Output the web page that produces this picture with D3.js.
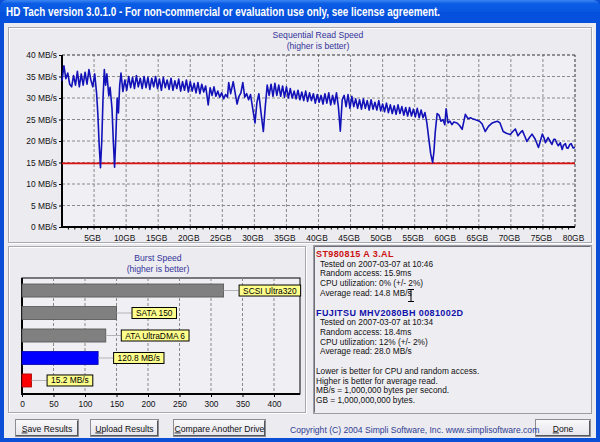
<!DOCTYPE html>
<html>
<head>
<meta charset="utf-8">
<script src="https://cdn.jsdelivr.net/npm/d3@7"></script>
<style>
  html, body { margin: 0; padding: 0; background: #fff; }
  svg { display: block; }
  text { font-family: "Liberation Sans", Arial, sans-serif; }
</style>
</head>
<body>
<div id="chart"></div>
<script>

// sequential read trace of the FUJITSU drive (GB position, MB/s)
var readGB = [0.0, 0.3, 0.6, 0.9, 1.2, 1.5, 1.8, 2.1, 2.4, 2.7, 3.0, 3.3, 3.6, 3.9, 4.2, 4.5, 4.8, 5.1, 5.4, 5.6,
    5.8, 6.0, 6.2, 6.4, 6.6, 6.8, 7.0, 7.3, 7.5, 7.8, 8.0, 8.2, 8.4, 8.6, 8.8, 9.0, 9.2, 9.5, 9.8, 10.1,
    10.4, 10.7, 11.0, 11.3, 11.6, 11.9, 12.2, 12.5, 12.8, 13.1, 13.4, 13.7, 14.0, 14.3, 14.6, 14.9, 15.2, 15.5, 15.8, 16.1,
    16.4, 16.7, 17.0, 17.3, 17.6, 17.9, 18.2, 18.5, 18.8, 19.1, 19.4, 19.7, 20.0, 20.3, 20.6, 20.9, 21.2, 21.5, 21.8, 22.1,
    22.4, 22.8, 23.1, 23.4, 23.7, 24.0, 24.3, 24.6, 24.9, 25.2, 25.5, 25.8, 26.0, 26.3, 26.7, 27.0, 27.3, 27.6, 27.9, 28.2,
    28.5, 28.8, 29.1, 29.4, 29.8, 30.1, 30.4, 30.7, 31.0, 31.4, 31.7, 32.0, 32.3, 32.6, 32.9, 33.2, 33.5, 33.8, 34.1, 34.4,
    34.7, 35.0, 35.3, 35.6, 35.9, 36.2, 36.5, 36.8, 37.1, 37.4, 37.7, 38.0, 38.3, 38.6, 38.9, 39.2, 39.5, 39.8, 40.1, 40.4,
    40.7, 41.0, 41.3, 41.6, 41.9, 42.2, 42.5, 42.8, 43.1, 43.4, 43.7, 44.0, 44.3, 44.6, 44.9, 45.2, 45.5, 45.8, 46.1, 46.4,
    46.7, 47.0, 47.3, 47.6, 47.9, 48.2, 48.5, 48.8, 49.1, 49.4, 49.7, 50.0, 50.3, 50.6, 50.9, 51.2, 51.5, 51.8, 52.1, 52.4,
    52.7, 53.0, 53.3, 53.6, 53.9, 54.2, 54.5, 54.8, 55.1, 55.4, 55.7, 56.0, 56.3, 56.6, 56.9, 57.2, 57.5, 57.8, 58.0, 58.2,
    58.5, 58.8, 59.1, 59.4, 59.7, 59.9, 60.2, 60.5, 60.8, 61.1, 61.6, 62.0, 62.4, 62.9, 63.3, 63.7, 64.0, 64.4, 64.7, 65.1,
    65.5, 66.0, 66.5, 67.1, 67.5, 67.9, 68.3, 68.8, 69.3, 69.9, 70.3, 70.7, 71.1, 71.5, 71.8, 72.2, 72.5, 72.9, 73.3, 73.8,
    74.3, 74.6, 74.9, 75.2, 75.4, 75.8, 76.1, 76.4, 76.7, 76.9, 77.2, 77.4, 77.7, 78.0, 78.2, 78.5, 78.7, 78.9, 79.2, 79.4,
    79.7, 80.0];
var readMBs = [34.0, 37.5, 34.5, 35.8, 33.2, 32.6, 35.2, 33.0, 36.2, 32.6, 35.6, 33.0, 36.0, 33.2, 36.6, 34.2, 32.6, 35.6, 31.0, 26.0,
    19.0, 13.8, 20.0, 30.0, 36.6, 33.0, 35.6, 30.5, 32.5, 27.5, 20.0, 13.9, 21.0, 30.0, 26.5, 33.0, 35.8, 31.5, 34.2, 31.8,
    35.0, 32.4, 34.8, 32.2, 35.2, 32.6, 34.6, 32.2, 35.0, 32.4, 34.8, 32.0, 34.6, 32.6, 35.0, 32.2, 34.4, 31.8, 34.8, 32.4,
    34.2, 32.0, 34.6, 31.8, 34.0, 32.2, 34.4, 31.6, 33.8, 31.8, 34.2, 31.4, 33.8, 31.6, 33.4, 31.2, 33.6, 31.0, 33.2, 31.4,
    32.8, 28.4, 32.4, 30.6, 32.6, 30.4, 31.6, 30.2, 31.2, 29.8, 30.8, 30.2, 33.6, 31.0, 33.8, 31.2, 28.6, 30.4, 31.2, 33.6,
    30.2, 31.0, 29.6, 30.8, 27.0, 24.2, 29.0, 31.0, 27.0, 22.2, 28.0, 33.0, 30.6, 33.2, 30.4, 33.4, 30.6, 33.0, 30.4, 32.8,
    30.2, 32.6, 30.0, 32.2, 30.0, 31.6, 29.8, 31.8, 29.6, 31.4, 29.4, 31.6, 29.2, 31.2, 29.4, 31.0, 28.8, 30.8, 29.0, 30.6,
    28.6, 31.0, 28.8, 31.2, 28.4, 30.6, 28.6, 31.2, 28.0, 22.3, 29.6, 30.6, 28.0, 30.8, 27.6, 30.4, 28.0, 29.8, 27.6, 29.6,
    27.4, 29.8, 27.6, 29.4, 27.2, 29.6, 27.4, 29.0, 27.2, 29.4, 27.0, 28.6, 26.8, 28.8, 26.6, 28.4, 26.4, 28.2, 26.2, 28.4,
    26.4, 28.0, 26.0, 27.8, 25.8, 27.8, 25.8, 27.4, 25.6, 27.6, 25.4, 27.2, 25.4, 26.6, 24.2, 20.5, 17.0, 15.0, 17.5, 22.0,
    26.4, 26.0, 24.6, 25.0, 23.8, 27.5, 24.2, 24.6, 23.8, 24.4, 24.2, 23.6, 22.7, 26.2, 25.2, 25.4, 25.2, 25.0, 24.8, 24.6,
    24.0, 22.2, 23.4, 24.2, 24.4, 24.6, 24.2, 22.2, 21.8, 21.5, 22.2, 22.8, 21.2, 22.0, 22.4, 21.0, 19.9, 20.8, 21.6, 20.4,
    18.5, 20.0, 21.6, 20.6, 19.6, 20.8, 20.0, 19.2, 20.4, 20.4, 19.4, 18.9, 19.6, 18.0, 19.0, 19.4, 18.4, 18.3, 19.2, 19.4,
    18.4, 18.5];

// ST980815 trace (flat, drawn as a red line)
var refGB = [0, 80];
var refMBs = [14.8, 14.8];

var yTickValues = [0, 5, 10, 15, 20, 25, 30, 35, 40];
var xTickValues = [5, 10, 15, 20, 25, 30, 35, 40, 45, 50, 55, 60, 65, 70, 75, 80];

// burst speed panel
var burstLabels = ["SCSI Ultra320", "SATA 150", "ATA UltraDMA 6", "120.8 MB/s", "15.2 MB/s"];
var burstValues = [320, 150, 133, 120.8, 15.2];
var burstColors = ["#808080", "#808080", "#808080", "#0000FF", "#FF0000"];
var burstTickValues = [0, 50, 100, 150, 200, 250, 300, 350, 400];

// drive info text
var driveNames = ["ST980815 A 3.AL", "FUJITSU MHV2080BH 0081002D"];
var driveTested = ["2007-03-07 at 10:46", "2007-03-07 at 10:34"];
var driveRandomAccess = ["15.9", "18.4"];
var driveCpu = ["0%", "12%"];
var driveAvgRead = ["14.8", "28.0"];
var driveColors = ["#CC1111", "#1111AA"];
var notes = ["Lower is better for CPU and random access.",
    "Higher is better for average read.",
    "MB/s = 1,000,000 bytes per second.",
    "GB = 1,000,000,000 bytes."];

var W = 600, H = 442;
var bodyColor = "#ECEBF0";
var titleColor = "#33339A";

var svg = d3.select("#chart").append("svg")
    .attr("width", W)
    .attr("height", H);

var defs = svg.append("defs");
var tg = defs.append("linearGradient").attr("id", "titlegrad")
    .attr("x1", 0).attr("y1", 0).attr("x2", 0).attr("y2", 1);
tg.append("stop").attr("offset", "0%").attr("stop-color", "#3C86F2");
tg.append("stop").attr("offset", "15%").attr("stop-color", "#0B5DE6");
tg.append("stop").attr("offset", "80%").attr("stop-color", "#0550DC");
tg.append("stop").attr("offset", "100%").attr("stop-color", "#0340C0");

var bg = defs.append("linearGradient").attr("id", "btngrad")
    .attr("x1", 0).attr("y1", 0).attr("x2", 0).attr("y2", 1);
bg.append("stop").attr("offset", "0%").attr("stop-color", "#FAFAFC");
bg.append("stop").attr("offset", "100%").attr("stop-color", "#E4E3EA");

// window frame
svg.append("rect").attr("width", W).attr("height", H).attr("fill", "#0A4FD6");
svg.append("rect").attr("x", 0).attr("y", 0).attr("width", W).attr("height", 24)
    .attr("rx", 7).attr("fill", "url(#titlegrad)");
svg.append("rect").attr("x", 0).attr("y", 12).attr("width", W).attr("height", 12)
    .attr("fill", "#0550DC");
svg.append("rect").attr("x", 4).attr("y", 23).attr("width", W - 8).attr("height", H - 27)
    .attr("fill", bodyColor);

svg.append("text")
    .attr("x", 6).attr("y", 16)
    .attr("fill", "#fff")
    .attr("font-size", "12px")
    .attr("font-weight", "bold")
    .attr("textLength", 434)
    .attr("lengthAdjust", "spacingAndGlyphs")
    .text("HD Tach version 3.0.1.0  - For non-commercial or evaluation use only, see license agreement.");

// etched group frames
function etched(x, y, w, h){
    svg.append("rect").attr("x", x + 1).attr("y", y + 1).attr("width", w).attr("height", h)
        .attr("fill", "none").attr("stroke", "#fff");
    svg.append("rect").attr("x", x).attr("y", y).attr("width", w).attr("height", h)
        .attr("fill", "none").attr("stroke", "#A8A8B0");
}
etched(8.5, 27.5, 583, 215);
etched(8.5, 246.5, 297, 166);

// ---------- sequential read chart ----------
var x = d3.scaleLinear().domain([0, 80]).range([62, 575]);
var y = d3.scaleLinear().domain([0, 40]).range([227, 55]);

svg.append("rect")
    .attr("x", x(0)).attr("y", y(40))
    .attr("width", x(80) - x(0)).attr("height", y(0) - y(40))
    .attr("fill", "#F0EFF4");

svg.append("text").attr("x", 318).attr("y", 38).attr("text-anchor", "middle")
    .attr("font-size", "8.6px").attr("fill", titleColor).text("Sequential Read Speed");
svg.append("text").attr("x", 318).attr("y", 49).attr("text-anchor", "middle")
    .attr("font-size", "8.6px").attr("fill", titleColor).text("(higher is better)");

// grid
svg.append("g").selectAll("line").data(xTickValues).enter().append("line")
    .attr("x1", function(d){ return x(d); }).attr("x2", function(d){ return x(d); })
    .attr("y1", y(0)).attr("y2", y(40))
    .attr("stroke", function(d){ return d === 80 ? "#333" : "#8A8A8A"; })
    .attr("stroke-width", 1)
    .attr("stroke-dasharray", "3,2");
svg.append("g").selectAll("line").data(yTickValues.slice(1)).enter().append("line")
    .attr("x1", x(0)).attr("x2", x(80))
    .attr("y1", function(d){ return y(d); }).attr("y2", function(d){ return y(d); })
    .attr("stroke", function(d){ return d === 40 ? "#333" : "#8A8A8A"; })
    .attr("stroke-width", 1)
    .attr("stroke-dasharray", "3,2");

// minor ticks under the GB axis
svg.append("g").selectAll("line").data(d3.range(1, 80)).enter().append("line")
    .attr("x1", function(d){ return x(d); }).attr("x2", function(d){ return x(d); })
    .attr("y1", y(0)).attr("y2", y(0) + 2.5)
    .attr("stroke", "#000").attr("stroke-width", 1);

var yAxis = svg.append("g")
    .attr("transform", "translate(" + x(0) + ",0)")
    .call(d3.axisLeft(y).tickValues(yTickValues).tickSize(3).tickPadding(2)
        .tickFormat(function(d){ return d + " MB/s"; }));
var xAxis = svg.append("g")
    .attr("transform", "translate(0," + y(0) + ")")
    .call(d3.axisBottom(x).tickValues(xTickValues).tickSize(0).tickPadding(8)
        .tickFormat(function(d){ return d + "GB"; }));
[yAxis, xAxis].forEach(function(a){
    a.select(".domain").attr("stroke", "#000").attr("stroke-width", 2);
    a.selectAll("text").attr("font-size", "8.4px").attr("fill", "#111")
        .attr("font-family", "Liberation Sans, Arial, sans-serif");
});
xAxis.selectAll("text").attr("dx", "-2");
yAxis.select(".domain").attr("d", "M0," + y(40) + "V" + (y(0) + 1));
xAxis.select(".domain").attr("d", "M" + (x(0) - 1) + ",0H" + x(80));

var line = d3.line()
    .x(function(d){ return x(d[0]); })
    .y(function(d){ return y(d[1]); });

svg.append("path")
    .datum(d3.zip(refGB, refMBs))
    .attr("d", line)
    .attr("fill", "none")
    .attr("stroke", "#DD1111")
    .attr("stroke-width", 1.6);

svg.append("path")
    .datum(d3.zip(readGB, readMBs))
    .attr("d", line)
    .attr("fill", "none")
    .attr("stroke", "#1212B8")
    .attr("stroke-width", 1.6)
    .attr("stroke-linejoin", "round");

// ---------- burst speed chart ----------
var bx = d3.scaleLinear().domain([0, 400]).range([22, 274]);
var by = d3.scaleBand().domain(burstLabels).range([279.5, 391.5])
    .paddingInner(0.42).paddingOuter(0.2);

svg.append("text").attr("x", 158).attr("y", 261).attr("text-anchor", "middle")
    .attr("font-size", "8.6px").attr("fill", titleColor).text("Burst Speed");
svg.append("text").attr("x", 158).attr("y", 272).attr("text-anchor", "middle")
    .attr("font-size", "8.6px").attr("fill", titleColor).text("(higher is better)");

svg.append("rect").attr("x", 22).attr("y", 278).attr("width", 278).attr("height", 116)
    .attr("fill", "#F0EFF4").attr("stroke", "#000").attr("stroke-width", 1);

svg.append("g").selectAll("line").data(burstTickValues.slice(1)).enter().append("line")
    .attr("x1", function(d){ return bx(d); }).attr("x2", function(d){ return bx(d); })
    .attr("y1", 278).attr("y2", 394)
    .attr("stroke", "#8A8A8A").attr("stroke-dasharray", "3,2");

var bAxis = svg.append("g")
    .attr("transform", "translate(0,394)")
    .call(d3.axisBottom(bx).tickValues(burstTickValues).tickSize(3).tickPadding(4));
bAxis.select(".domain").attr("stroke", "#000").attr("stroke-width", 2)
    .attr("d", "M22,0H300");
bAxis.selectAll("text").attr("font-size", "8.4px").attr("fill", "#111")
    .attr("font-family", "Liberation Sans, Arial, sans-serif");
svg.append("line").attr("x1", 22).attr("x2", 22).attr("y1", 278).attr("y2", 395)
    .attr("stroke", "#000").attr("stroke-width", 2);

var bars = svg.append("g").selectAll("g").data(burstLabels).enter().append("g");
bars.append("rect")
    .attr("x", bx(0))
    .attr("y", function(d){ return by(d); })
    .attr("width", function(d, i){ return bx(burstValues[i]) - bx(0); })
    .attr("height", by.bandwidth())
    .attr("fill", function(d, i){ return burstColors[i]; })
    .attr("stroke", function(d, i){ return d3.color(burstColors[i]).darker(1.2); })
    .attr("stroke-width", 0.8);

bars.append("line")
    .attr("x1", function(d, i){ return bx(burstValues[i]); })
    .attr("x2", function(d, i){ return bx(burstValues[i]) + 15; })
    .attr("y1", function(d){ return by(d) + by.bandwidth() / 2; })
    .attr("y2", function(d){ return by(d) + by.bandwidth() / 2; })
    .attr("stroke", "#B4B4B4");

bars.each(function(d, i){
    var g = d3.select(this);
    var cy = by(d) + by.bandwidth() / 2;
    var lx = bx(burstValues[i]) + 15;
    var box = g.append("rect");
    var t = g.append("text")
        .attr("y", cy + 3)
        .attr("font-size", "8.4px")
        .attr("fill", "#000")
        .text(d);
    var tw = t.node().getComputedTextLength();
    box.attr("x", lx + 0.5).attr("y", cy - 5.5)
        .attr("width", tw + 8).attr("height", 11)
        .attr("fill", "#FFFF8C").attr("stroke", "#000").attr("stroke-width", 1);
    t.attr("x", lx + 4.5);
});

// ---------- drive info panel ----------
svg.append("rect").attr("x", 313.5).attr("y", 245.5).attr("width", 278).attr("height", 168)
    .attr("fill", "#EEEDF2").attr("stroke", "#9C9CA4");
svg.append("line").attr("x1", 314.5).attr("x2", 590.5).attr("y1", 246.5).attr("y2", 246.5)
    .attr("stroke", "#6E6E78");
svg.append("line").attr("x1", 314.5).attr("x2", 314.5).attr("y1", 246.5).attr("y2", 412.5)
    .attr("stroke", "#6E6E78");

var info = svg.append("g").attr("font-size", "8.3px").attr("fill", "#111");
driveNames.forEach(function(name, i){
    var top = 257 + i * 58.5;
    info.append("text").attr("x", 316).attr("y", top)
        .attr("font-size", "9px").attr("font-weight", "bold")
        .attr("letter-spacing", "0.4px")
        .attr("fill", driveColors[i]).text(name);
    var lines = ["Tested on " + driveTested[i],
        "Random access: " + driveRandomAccess[i] + "ms",
        "CPU utilization: " + driveCpu[i] + " (+/- 2%)",
        "Average read: " + driveAvgRead[i] + " MB/s"];
    lines.forEach(function(s, j){
        info.append("text").attr("x", 320).attr("y", top + 9.7 * (j + 1)).text(s);
    });
});
notes.forEach(function(s, j){
    info.append("text").attr("x", 316).attr("y", 374 + 9.7 * j).text(s);
});

// I-beam cursor left in the text box
svg.append("path")
    .attr("d", "M408,289.5h6M411,289.5v12M408,301.5h6")
    .attr("stroke", "#000").attr("stroke-width", 1).attr("fill", "none");

// ---------- buttons ----------
var buttons = [
    {label: "Save Results", x: 15, w: 63},
    {label: "Upload Results", x: 90, w: 68},
    {label: "Compare Another Drive", x: 173, w: 92},
    {label: "Done", x: 535, w: 55}
];
buttons.forEach(function(b){
    var g = svg.append("g");
    g.append("rect").attr("x", b.x + 0.5).attr("y", 419.5).attr("width", b.w).attr("height", 17)
        .attr("fill", "url(#btngrad)").attr("stroke", "#8C8C94");
    g.append("path")
        .attr("d", "M" + (b.x + b.w - 0.5) + ",420.5V436M" + (b.x + 1) + ",435.5H" + (b.x + b.w))
        .attr("stroke", "#55555C");
    var t = g.append("text").attr("x", b.x + b.w / 2 + 0.5).attr("y", 431.5)
        .attr("text-anchor", "middle").attr("font-size", "8.6px").attr("fill", "#111");
    t.append("tspan").attr("text-decoration", "underline").text(b.label.charAt(0));
    t.append("tspan").text(b.label.slice(1));
});

svg.append("text").attr("x", 290).attr("y", 433)
    .attr("font-size", "8.6px").attr("fill", "#2E3D94")
    .text("Copyright (C) 2004 Simpli Software, Inc. www.simplisoftware.com");

</script>
</body>
</html>
